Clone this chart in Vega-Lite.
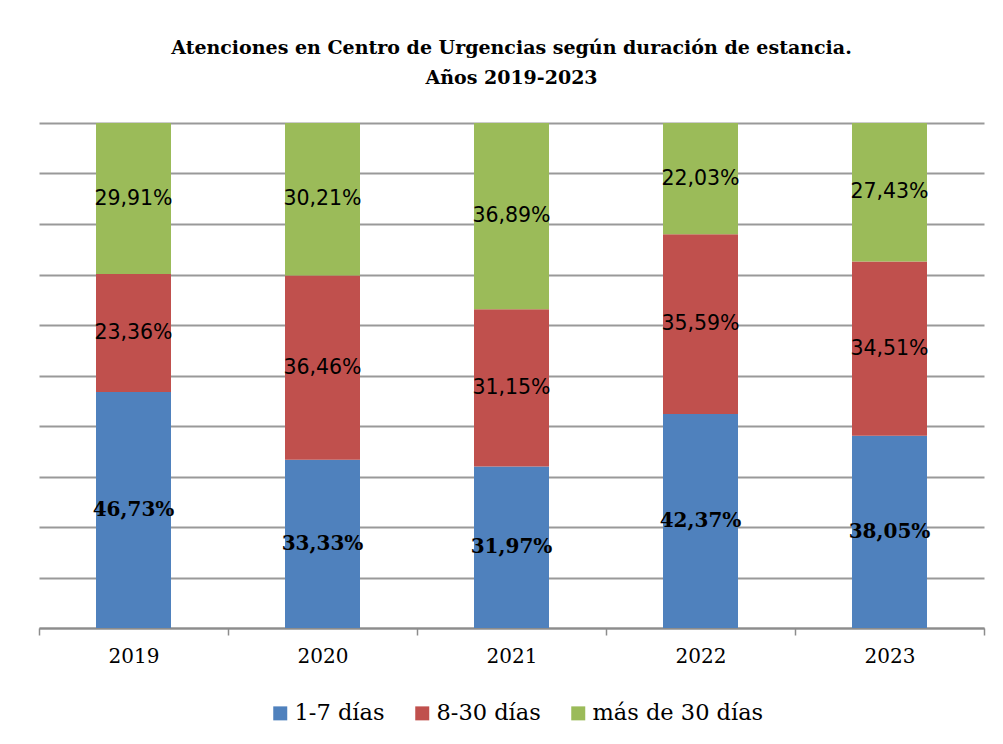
{
  "$schema": "https://vega.github.io/schema/vega-lite/v6.json",
  "width": 945,
  "height": 505,
  "padding": {"left": 38, "top": 38, "right": 20, "bottom": 5},
  "background": "white",
  "title": {
    "text": ["Atenciones en Centro de Urgencias según duración de estancia.", "Años 2019-2023"],
    "font": "DejaVu Serif",
    "fontSize": 19,
    "fontWeight": "bold",
    "color": "black",
    "lineHeight": 30,
    "offset": 35,
    "anchor": "middle"
  },
  "config": {
    "view": {"stroke": null},
    "locale": {"number": {"decimal": ",", "thousands": ".", "grouping": [3], "currency": ["", " €"]}}
  },
  "data": {
    "values": [
      {"year": 2019, "cat": "1-7 días", "order": 1, "pct": 0.4673},
      {"year": 2019, "cat": "8-30 días", "order": 2, "pct": 0.2336},
      {"year": 2019, "cat": "más de 30 días", "order": 3, "pct": 0.2991},
      {"year": 2020, "cat": "1-7 días", "order": 1, "pct": 0.3333},
      {"year": 2020, "cat": "8-30 días", "order": 2, "pct": 0.3646},
      {"year": 2020, "cat": "más de 30 días", "order": 3, "pct": 0.3021},
      {"year": 2021, "cat": "1-7 días", "order": 1, "pct": 0.3197},
      {"year": 2021, "cat": "8-30 días", "order": 2, "pct": 0.3115},
      {"year": 2021, "cat": "más de 30 días", "order": 3, "pct": 0.3689},
      {"year": 2022, "cat": "1-7 días", "order": 1, "pct": 0.4237},
      {"year": 2022, "cat": "8-30 días", "order": 2, "pct": 0.3559},
      {"year": 2022, "cat": "más de 30 días", "order": 3, "pct": 0.2203},
      {"year": 2023, "cat": "1-7 días", "order": 1, "pct": 0.3805},
      {"year": 2023, "cat": "8-30 días", "order": 2, "pct": 0.3451},
      {"year": 2023, "cat": "más de 30 días", "order": 3, "pct": 0.2743}
    ]
  },
  "transform": [
    {"stack": "pct", "groupby": ["year"], "sort": [{"field": "order", "order": "ascending"}], "as": ["p0", "p1"]},
    {"calculate": "(datum.p0 + datum.p1) / 2", "as": "mid"}
  ],
  "encoding": {
    "x": {
      "field": "year",
      "type": "quantitative",
      "scale": {"domain": [2018.5, 2023.5], "nice": false, "zero": false, "padding": 0},
      "axis": {
        "title": null,
        "values": [2018.5, 2019.5, 2020.5, 2021.5, 2022.5, 2023.5],
        "labelExpr": "datum.value > 2023 ? '' : toString(datum.value + 0.5)",
        "labelOffset": 94.5,
        "labelFlush": false,
        "labelOverlap": false,
        "labelFont": "DejaVu Serif",
        "labelFontSize": 20,
        "labelColor": "black",
        "labelPadding": 11,
        "tickSize": 7,
        "tickColor": "#8c8c8c",
        "tickWidth": 1.5,
        "domainColor": "#8c8c8c",
        "domainWidth": 2,
        "grid": false
      }
    }
  },
  "layer": [
    {
      "mark": {"type": "bar", "width": 75},
      "encoding": {
        "y": {
          "field": "p1",
          "type": "quantitative",
          "scale": {"domain": [0, 1], "nice": false},
          "axis": {
            "title": null,
            "values": [0, 0.1, 0.2, 0.3, 0.4, 0.5, 0.6, 0.7, 0.8, 0.9, 1],
            "labels": false,
            "ticks": false,
            "domain": false,
            "grid": true,
            "gridColor": "#999999",
            "gridWidth": 2
          }
        },
        "y2": {"field": "p0"},
        "color": {
          "field": "cat",
          "type": "nominal",
          "scale": {"domain": ["1-7 días", "8-30 días", "más de 30 días"], "range": ["#4F81BD", "#C0504D", "#9BBB59"]},
          "legend": {
            "orient": "none",
            "legendX": 230,
            "legendY": 579,
            "direction": "horizontal",
            "title": null,
            "symbolType": "square",
            "symbolSize": 196,
            "symbolStrokeWidth": 0,
            "labelFont": "DejaVu Serif",
            "labelFontSize": 22.5,
            "labelColor": "black",
            "labelOffset": 3,
            "labelLimit": 0,
            "columnPadding": 26
          }
        }
      }
    },
    {
      "transform": [{"filter": "datum.order == 1"}],
      "mark": {"type": "text", "font": "DejaVu Serif", "fontSize": 20, "fontWeight": "bold", "color": "black", "baseline": "middle"},
      "encoding": {
        "y": {"field": "mid", "type": "quantitative"},
        "text": {"field": "pct", "type": "quantitative", "format": ".2%"}
      }
    },
    {
      "transform": [{"filter": "datum.order != 1"}],
      "mark": {"type": "text", "font": "DejaVu Sans", "fontSize": 20.5, "color": "black", "baseline": "middle"},
      "encoding": {
        "y": {"field": "mid", "type": "quantitative"},
        "text": {"field": "pct", "type": "quantitative", "format": ".2%"}
      }
    }
  ]
}
